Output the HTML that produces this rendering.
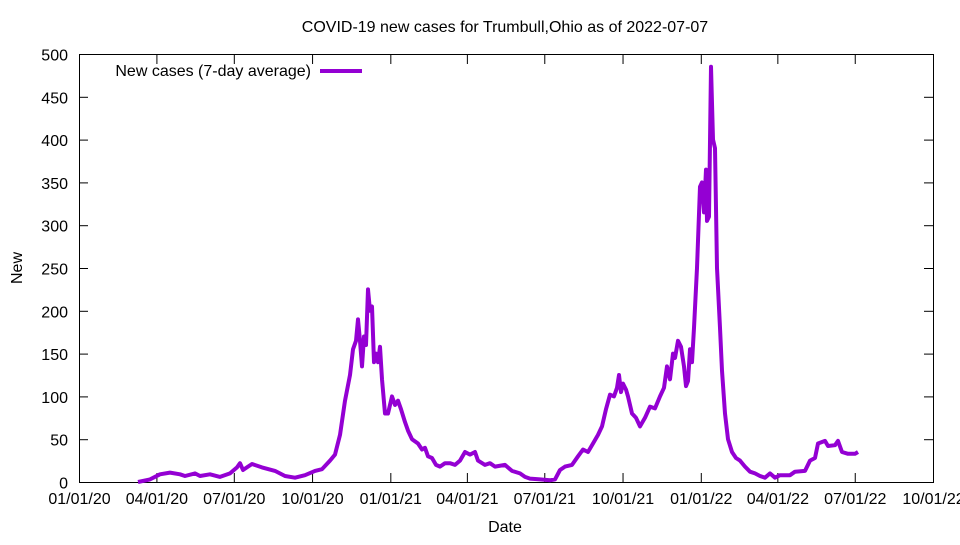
<!DOCTYPE html>
<html><head><meta charset="utf-8"><style>
body{margin:0;background:#fff;}
svg text{font-family:"Liberation Sans",sans-serif;font-size:16px;fill:#000;}
</style></head><body>
<svg width="960" height="540" viewBox="0 0 960 540" xmlns="http://www.w3.org/2000/svg">
<rect width="960" height="540" fill="#fff"/>
<text x="505" y="32" text-anchor="middle">COVID-19 new cases for Trumbull,Ohio as of 2022-07-07</text>
<g id="grid" stroke="#000" stroke-width="1"></g>
<rect x="79.5" y="54.5" width="854" height="428" fill="none" stroke="#000"/>
<g id="labels"></g>
<text x="505" y="532" text-anchor="middle">Date</text>
<text transform="translate(22,268) rotate(-90)" text-anchor="middle">New</text>
<text x="311" y="76" text-anchor="end">New cases (7-day average)</text>
<line x1="320" y1="71" x2="362" y2="71" stroke="#9400d3" stroke-width="4"/>
<polyline id="s" fill="none" stroke="#9400d3" stroke-width="4" stroke-linejoin="round"/>
</svg>
<script>
var ns="http://www.w3.org/2000/svg",g=document.getElementById('grid'),L=document.getElementById('labels');
function el(t,a,p,txt){var e=document.createElementNS(ns,t);for(var k in a)e.setAttribute(k,a[k]);if(txt)e.textContent=txt;p.appendChild(e);}
for(var v=0;v<=500;v+=50){var y=482.5-v*0.856;
el('line',{x1:79,y1:y,x2:88,y2:y},g);el('line',{x1:924,y1:y,x2:933,y2:y},g);
el('text',{x:68,y:y+6,'text-anchor':'end'},L,String(v));}
var d=['01/01/20','04/01/20','07/01/20','10/01/20','01/01/21','04/01/21','07/01/21','10/01/21','01/01/22','04/01/22','07/01/22','10/01/22'];
var days=[0,91,182,274,366,456,547,639,731,821,912,1004];
for(var i=0;i<d.length;i++){var x=79.5+days[i]*0.8506;
el('line',{x1:x,y1:482,x2:x,y2:473},g);el('line',{x1:x,y1:55,x2:x,y2:64},g);
el('text',{x:x,y:504,'text-anchor':'middle'},L,d[i]);}
var P=[138,0,150,3,160,9,170,11,180,9,185,7,195,10,200,7,210,9,220,6,230,10,237,17,240,22,243,14,248,18,252,21,262,17,275,13,285,7,295,5,305,8,315,13,322,15,330,25,335,32,340,55,345,95,350,125,353,155,356,165,358,190,360,165,362,135,364,170,366,160,368,225,370,200,372,205,374,140,376,150,378,140,380,158,382,120,385,80,388,80,392,100,395,90,398,95,401,85,405,70,408,60,412,50,418,45,422,38,425,40,428,30,432,28,436,20,440,18,445,22,450,22,455,20,460,25,465,35,470,32,475,35,478,25,485,20,490,22,495,18,505,20,512,13,520,10,525,6,530,4,540,3,550,2,555,3,560,14,565,18,572,20,578,30,583,38,588,35,593,45,598,55,602,65,606,85,610,102,614,100,617,110,619,125,621,105,623,115,626,108,628,100,632,80,636,75,640,65,645,75,650,88,655,86,660,100,664,110,667,135,670,120,673,150,675,145,678,165,681,158,684,135,686,112,688,118,690,155,692,140,694,180,697,250,700,345,702,350,704,315,706,365,707,305,709,310,711,485,713,400,715,390,717,250,720,180,722,130,725,80,728,50,732,35,736,28,740,25,745,18,750,12,755,10,760,7,765,5,770,10,775,5,780,8,790,8,795,12,805,13,810,25,815,28,818,45,825,48,828,42,835,43,838,48,842,35,848,33,855,33,858,35];
var s=[];for(var i=0;i<P.length;i+=2)s.push(P[i]+','+(482-P[i+1]*0.856).toFixed(1));
document.getElementById('s').setAttribute('points',s.join(' '));
</script>
</body></html>
